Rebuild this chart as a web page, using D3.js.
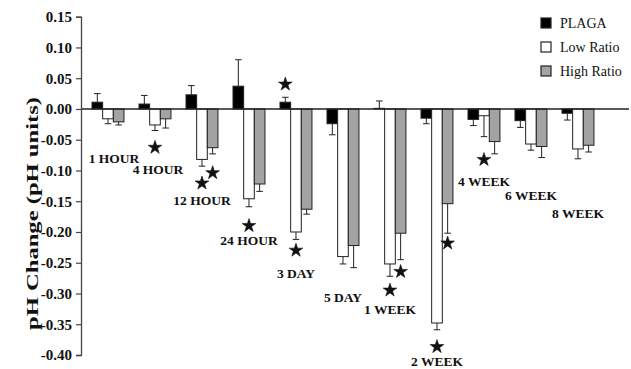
<!DOCTYPE html>
<html>
<head>
<meta charset="utf-8">
<script src="https://cdn.jsdelivr.net/npm/d3@7"></script>
<style>
  html, body { margin: 0; padding: 0; background: #fff; }
  svg { display: block; }
  text { font-family: "Liberation Serif", "Times New Roman", serif; fill: #111; }
</style>
</head>
<body>
<svg id="chart" width="631" height="369"></svg>
<script>
// Time points after degradation start
const categories = ["1 HOUR", "4 HOUR", "12 HOUR", "24 HOUR", "3 DAY", "5 DAY",
                    "1 WEEK", "2 WEEK", "4 WEEK", "6 WEEK", "8 WEEK"];
const seriesNames = ["PLAGA", "Low Ratio", "High Ratio"];

// Mean pH change and standard deviation per series
const plaga      = [0.011, 0.008, 0.023, 0.037, 0.011, -0.024, 0.001, -0.015, -0.017, -0.019, -0.007];
const plagaErr   = [0.014, 0.014, 0.015, 0.043, 0.008, 0.018, 0.012, 0.009, 0.010, 0.011, 0.011];
const lowRatio   = [-0.016, -0.026, -0.082, -0.146, -0.200, -0.240, -0.252, -0.348, -0.011, -0.057, -0.065];
const lowErr     = [0.008, 0.009, 0.011, 0.013, 0.012, 0.012, 0.020, 0.011, 0.034, 0.010, 0.016];
const highRatio  = [-0.021, -0.016, -0.063, -0.122, -0.163, -0.222, -0.202, -0.154, -0.053, -0.061, -0.059];
const highErr    = [0.005, 0.015, 0.010, 0.012, 0.008, 0.036, 0.043, 0.048, 0.020, 0.018, 0.011];

// Y axis tick values
const yTicks = [0.15, 0.10, 0.05, 0.00, -0.05, -0.10, -0.15, -0.20, -0.25, -0.30, -0.35, -0.40];

// Statistically significant differences (time point, series)
const significant = [
  ["4 HOUR", "Low Ratio"], ["12 HOUR", "Low Ratio"], ["12 HOUR", "High Ratio"],
  ["24 HOUR", "Low Ratio"], ["3 DAY", "PLAGA"], ["3 DAY", "Low Ratio"],
  ["1 WEEK", "Low Ratio"], ["1 WEEK", "High Ratio"], ["2 WEEK", "Low Ratio"],
  ["2 WEEK", "High Ratio"], ["4 WEEK", "Low Ratio"]
];

// ---- layout ----
const starGap = [17, 17, 19, 19, 13, 11, 14, 12, 17, 10, 23];           // px beyond whisker end
const labelLevel = [-0.081, -0.099, -0.149, -0.214, -0.268, -0.306,
                    -0.326, -0.410, -0.118, -0.141, -0.170];             // pH level of time label
const labelShift = [6, 3, 0, 0, 0, 0, 0, 0, 0, 0, 0];                    // px horizontal nudge

const values = [plaga, lowRatio, highRatio];
const errors = [plagaErr, lowErr, highErr];
const fills = ["#000000", "#ffffff", "#a3a3a3"];

const rows = [];
categories.forEach((c, i) => {
  seriesNames.forEach((s, j) => {
    rows.push({ cat: c, series: s, value: values[j][i], err: errors[j][i], fill: fills[j] });
  });
});

const svg = d3.select("#chart");

const y = d3.scaleLinear().domain([-0.40, 0.15]).range([355, 16.7]);
const x = d3.scaleBand().domain(categories).range([81, 629])
  .paddingInner(0.32).paddingOuter(0.49).align(0.239);
const xs = d3.scaleBand().domain(seriesNames).range([0, x.bandwidth()]);

// Bars
const g = svg.append("g");
g.selectAll("rect.bar").data(rows).join("rect")
  .attr("class", "bar")
  .attr("x", d => x(d.cat) + xs(d.series))
  .attr("width", xs.bandwidth())
  .attr("y", d => Math.min(y(d.value), y(0)))
  .attr("height", d => Math.abs(y(d.value) - y(0)))
  .attr("fill", d => d.fill)
  .attr("stroke", "#222")
  .attr("stroke-width", 1);

// Error whiskers, drawn away from zero
const errEnd = d => d.value + (d.value >= 0 ? d.err : -d.err);
const cx = d => x(d.cat) + xs(d.series) + xs.bandwidth() / 2;
const whiskers = g.selectAll("g.err").data(rows).join("g").attr("class", "err")
  .attr("stroke", "#222").attr("stroke-width", 1);
whiskers.append("line")
  .attr("x1", cx).attr("x2", cx)
  .attr("y1", d => y(d.value)).attr("y2", d => y(errEnd(d)));
whiskers.append("line")
  .attr("x1", d => cx(d) - 3.3).attr("x2", d => cx(d) + 3.3)
  .attr("y1", d => y(errEnd(d))).attr("y2", d => y(errEnd(d)));

// Zero baseline
svg.append("line")
  .attr("x1", x.range()[0]).attr("x2", x.range()[1])
  .attr("y1", y(0)).attr("y2", y(0))
  .attr("stroke", "#222").attr("stroke-width", 1.5);

// Y axis
const yAxis = svg.append("g")
  .attr("transform", "translate(81,0)")
  .call(d3.axisLeft(y).tickValues(yTicks).tickFormat(d3.format(".2f")).tickSize(5).tickSizeOuter(5).tickPadding(4));
yAxis.select(".domain").attr("stroke", "#444").attr("stroke-width", 1.3);
yAxis.selectAll(".tick line").attr("stroke", "#444").attr("stroke-width", 1.2);
yAxis.selectAll(".tick text")
  .attr("font-family", "Liberation Serif, Times New Roman, serif")
  .attr("font-weight", "bold").attr("font-size", 15).attr("fill", "#111")
  .text(d => d3.format(".2f")(d).replace("−", "-"));

// Axis title
svg.append("text")
  .attr("transform", `translate(32,${(97 + 330) / 2}) rotate(-90)`)
  .attr("text-anchor", "middle")
  .attr("dominant-baseline", "central")
  .attr("font-weight", "bold").attr("font-size", 17)
  .attr("textLength", 233).attr("lengthAdjust", "spacingAndGlyphs")
  .text("pH Change (pH units)");

// Significance stars
const star = d3.symbol().type(d3.symbolStar).size(58);
significant.forEach(([c, s], k) => {
  const d = rows.find(r => r.cat === c && r.series === s);
  const end = y(errEnd(d));
  const sy = d.value >= 0 ? end - starGap[k] : end + starGap[k];
  svg.append("path").attr("d", star())
    .attr("transform", `translate(${cx(d)},${sy})`)
    .attr("fill", "#111").attr("stroke", "#111").attr("stroke-width", 0.6)
    .attr("stroke-linejoin", "round");
});

// Time point labels
svg.selectAll("text.cat").data(categories).join("text")
  .attr("class", "cat")
  .attr("x", (c, i) => x(c) + x.bandwidth() / 2 + labelShift[i])
  .attr("y", (c, i) => y(labelLevel[i]))
  .attr("text-anchor", "middle")
  .attr("dominant-baseline", "central")
  .attr("font-weight", "bold").attr("font-size", 13.5)
  .text(c => c);

// Legend
const legend = svg.append("g").attr("transform", "translate(541,23)");
seriesNames.forEach((s, j) => {
  const row = legend.append("g").attr("transform", `translate(0,${j * 24})`);
  row.append("rect").attr("x", 0).attr("y", -5).attr("width", 10).attr("height", 10)
    .attr("fill", fills[j]).attr("stroke", "#222").attr("stroke-width", 1.2);
  row.append("text").attr("x", 19).attr("y", 0)
    .attr("dominant-baseline", "central")
    .attr("font-size", 14)
    .text(s);
});
</script>
</body>
</html>
